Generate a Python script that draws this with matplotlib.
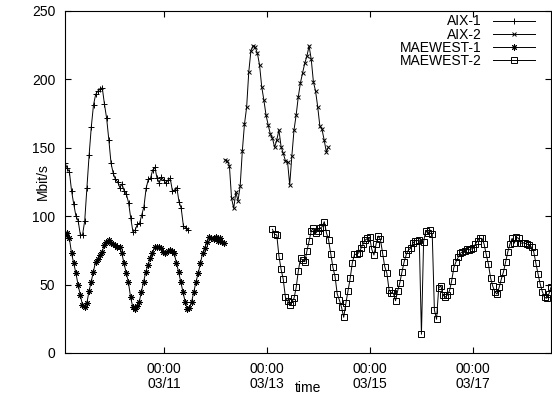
import pandas as pd
import matplotlib
matplotlib.use('Agg')
import matplotlib.pyplot as plt
import matplotlib.dates as mdates

plt.rcParams['font.family'] = ['Liberation Sans', 'DejaVu Sans']
plt.rcParams['font.size'] = 10

# traffic samples, roughly hourly, Mbit/s
aix1 = [139.1, 135.0, 132.5, 118.4, 108.7, 100.0, 96.7, 86.3, 86.3, 96.7, 120.9,
        144.7, 165.4, 181.3, 189.1, 191.5, 192.7, 193.9, 181.8, 171.5, 155.7,
        138.7, 131.3, 126.9, 125.2, 120.9, 123.5, 118.4, 116.0, 109.9, 98.5,
        88.5, 89.9, 94.0, 94.8, 100.9, 106.9, 120.4, 126.9, 127.7, 133.8, 135.7,
        127.7, 124.5, 128.4, 126.5, 124.0, 126.5, 127.7, 118.4, 119.2, 120.9,
        110.6, 105.8, 93.0, 91.6, 89.9]
aix1_span = ('2003-03-09 01:35', '2003-03-11 10:56')

aix2 = [141.1, 140.4, 136.9, 113.1, 105.8, 117.4, 111.3, 122.1, 147.7, 167.4,
        179.6, 205.6, 221.0, 224.6, 223.4, 219.1, 210.5, 194.7, 184.9, 174.0,
        166.7, 160.1, 156.9, 150.4, 155.7, 163.0, 150.8, 146.0, 140.6, 139.9,
        122.8, 144.0, 163.0, 174.0, 187.4, 197.6, 204.9, 211.8, 217.1, 224.4,
        214.7, 198.3, 191.5, 180.0, 165.9, 163.5, 155.7, 147.1, 150.4]
aix2_span = ('2003-03-12 04:22', '2003-03-14 04:39')

maewest1 = [86.3, 87.5, 83.8, 72.9, 65.6, 58.3, 49.7, 42.4, 35.1, 33.4, 36.3,
            45.3, 52.1, 59.4, 66.7, 68.5, 71.6, 74.0, 78.9, 81.4, 82.6, 80.6,
            79.7, 78.9, 77.7, 77.2, 73.3, 65.6, 58.7, 52.1, 41.2, 33.8, 31.9,
            34.4, 37.5, 44.8, 52.1, 59.4, 64.3, 69.2, 72.9, 77.2, 77.7, 77.2,
            76.5, 74.0, 72.9, 74.8, 75.3, 74.8, 72.9, 66.0, 59.4, 52.1, 44.8,
            37.5, 31.9, 32.7, 37.5, 44.8, 52.1, 58.3, 65.6, 72.9, 76.5, 81.4,
            85.0, 83.8, 83.1, 84.6, 82.1, 83.8, 81.4, 80.2]
maewest1_span = ('2003-03-09 01:35', '2003-03-12 04:03')

maewest2 = [90.4, 86.8, 86.3, 70.9, 61.2, 53.9, 40.7, 38.2, 35.1, 37.5, 40.0,
            48.0, 60.2, 69.2, 68.0, 66.7, 74.8, 82.1, 89.4, 91.1, 87.5, 89.4,
            91.1, 92.3, 96.0, 87.9, 82.6, 72.4, 62.6, 55.8, 43.1, 38.7, 33.4,
            26.1, 36.3, 45.5, 54.6, 66.0, 72.1, 72.1, 73.3, 76.5, 79.7, 82.6,
            83.8, 84.6, 75.8, 71.6, 79.7, 85.5, 83.1, 73.3, 63.1, 58.3, 46.1,
            44.1, 43.6, 38.2, 45.5, 51.4, 59.4, 66.7, 72.1, 75.3, 76.5, 80.2,
            82.1, 82.1, 82.6, 13.7, 81.4, 89.4, 87.5, 89.9, 86.8, 31.4, 24.6,
            47.7, 49.0, 42.4, 40.7, 42.4, 45.5, 52.8, 62.4, 66.7, 69.9, 72.9,
            74.0, 74.8, 75.8, 75.3, 76.0, 76.5, 79.7, 82.1, 83.8, 83.8, 79.7,
            72.1, 65.1, 55.0, 49.0, 44.8, 43.1, 48.0, 54.1, 59.4, 66.7, 74.0,
            79.7, 83.8, 80.2, 84.6, 83.8, 80.2, 80.6, 80.2, 79.5, 78.9, 77.2,
            74.0, 65.6, 57.7, 50.4, 44.8, 40.7, 40.0, 43.1, 48.0]
maewest2_span = ('2003-03-13 02:29', '2003-03-18 12:36')


def times(span, values):
    return pd.date_range(span[0], span[1], periods=len(values))


fig = plt.figure(figsize=(5.52, 3.99), dpi=100)
ax = fig.add_axes([65 / 552, 46 / 399, 486 / 552, 342 / 399])

style = dict(color='black', lw=0.7, markeredgewidth=0.7)
ax.plot(times(aix1_span, aix1), aix1, marker='+', ms=4.5, label='AIX-1', **style)
ax.plot(times(aix2_span, aix2), aix2, marker='x', ms=3.5, label='AIX-2', **style)
ax.plot(times(maewest1_span, maewest1), maewest1, marker=(8, 2, 0), ms=4.5,
        label='MAEWEST-1', **style)
ax.plot(times(maewest2_span, maewest2), maewest2, marker='s', ms=4,
        markerfacecolor='none', label='MAEWEST-2', **style)

ax.set_xlim(pd.Timestamp(aix1_span[0]), pd.Timestamp(maewest2_span[1]))
ax.set_ylim(0, 250)
ax.set_yticks(range(0, 251, 50))
ax.xaxis.set_major_locator(mdates.DayLocator(bymonthday=range(1, 32, 2)))
ax.xaxis.set_major_formatter(mdates.DateFormatter('%H:%M\n%m/%d'))

ax.tick_params(direction='in', length=4.5, width=0.8, top=True, right=True)
ax.tick_params(axis='x', pad=6.5)
ax.tick_params(axis='y', pad=7)
for lbl in ax.get_xticklabels():
    lbl.set_linespacing(1.05)
for s in ax.spines.values():
    s.set_linewidth(0.8)

ax.set_ylabel('Mbit/s')
ax.yaxis.set_label_coords(-0.031, 0.5)
ax.set_xlabel('time')
ax.xaxis.set_label_coords(0.5, -0.083)

ax.legend(loc='upper right', bbox_to_anchor=(0.967, 0.99), frameon=False,
          markerfirst=False, numpoints=1, handlelength=3.0, handletextpad=0.85,
          labelspacing=-0.05, borderpad=0, borderaxespad=0)

fig.savefig('out.png', dpi=100)
